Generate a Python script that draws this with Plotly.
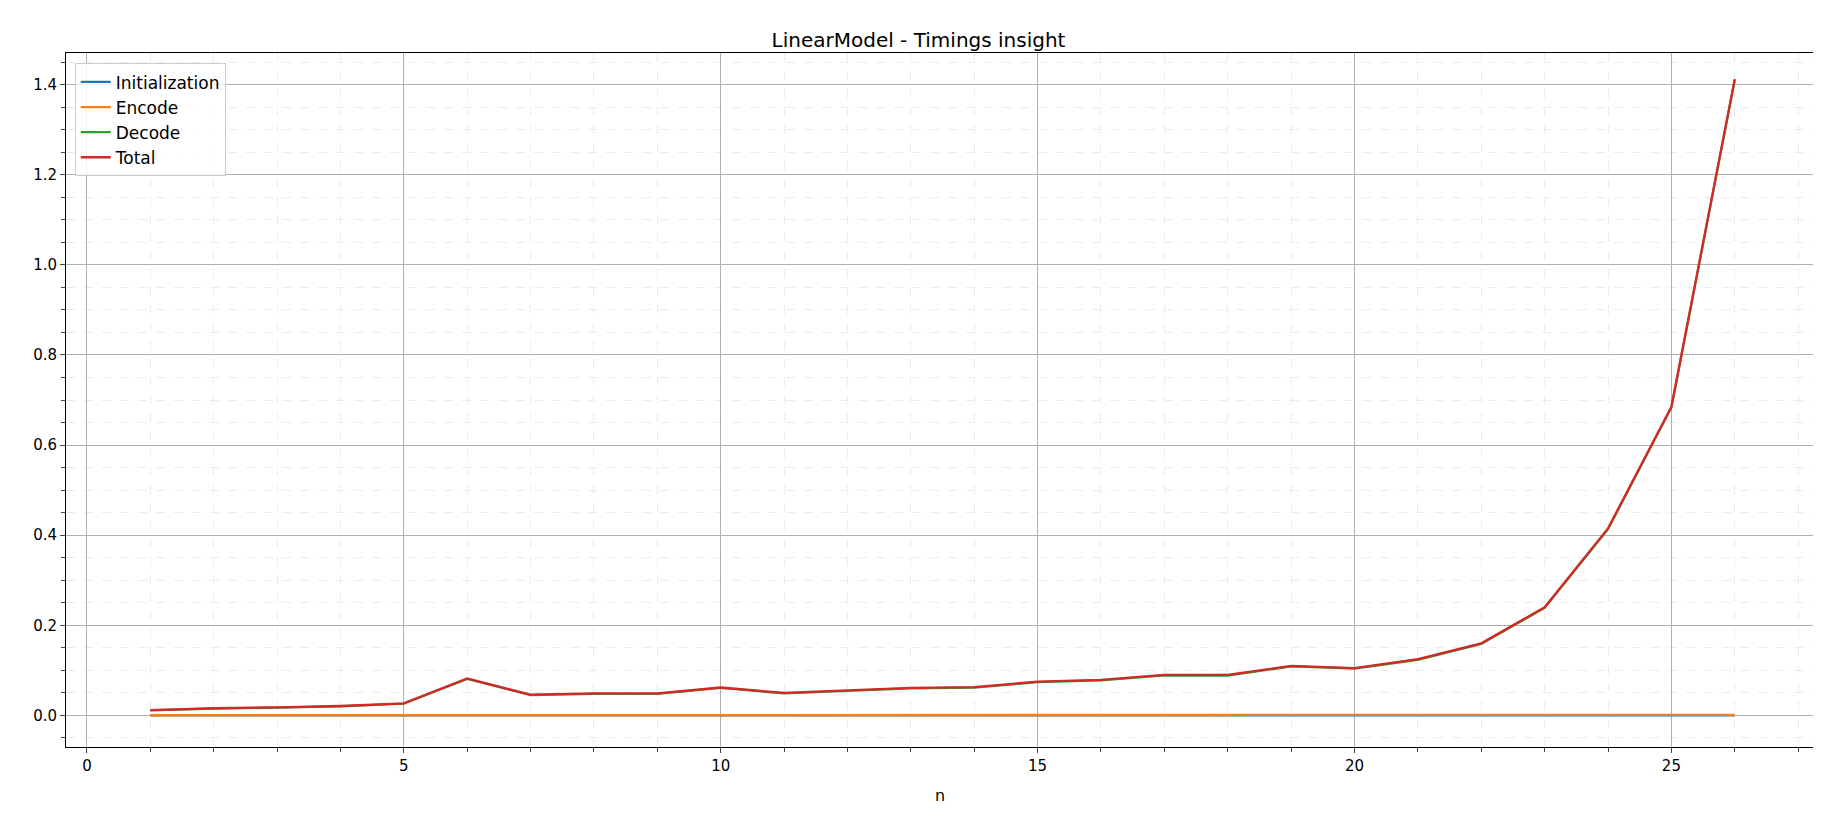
import plotly.graph_objects as go

n = list(range(1, 27))
total = [0.012, 0.016, 0.018, 0.021, 0.027, 0.082, 0.046, 0.049, 0.049, 0.062, 0.050, 0.055,
         0.061, 0.063, 0.075, 0.079, 0.090, 0.090, 0.110, 0.105, 0.125, 0.160, 0.240, 0.415,
         0.685, 1.412]
initialization = [0.0001] * 26
encode = [0.0005, 0.0006, 0.0006, 0.0007, 0.0007, 0.0008, 0.0008, 0.0008, 0.0009, 0.0009,
          0.0009, 0.0010, 0.0010, 0.0010, 0.0011, 0.0011, 0.0011, 0.0012, 0.0012, 0.0012,
          0.0013, 0.0013, 0.0013, 0.0013, 0.0014, 0.0014]
decode = [t - e - i for t, e, i in zip(total, encode, initialization)]

series = [("Initialization", initialization, "#1f77b4"),
          ("Encode", encode, "#ff7f0e"),
          ("Decode", decode, "#2ca02c"),
          ("Total", total, "#d62728")]

fig = go.Figure()
for name, vals, col in series:
    fig.add_trace(go.Scatter(x=n, y=vals, mode="lines", name=name,
                             line=dict(color=col, width=2.3)))

axis_common = dict(showline=True, linecolor="black", mirror=True, ticks="outside",
                   zeroline=False, gridcolor="#b0b0b0", gridwidth=1,
                   tickfont=dict(size=15, color="black"))
fig.update_xaxes(range=[-0.33, 27.25], dtick=5, title=dict(text="n", font=dict(size=16)),
                 minor=dict(dtick=1, showgrid=True, gridcolor="#ececec", griddash="dash",
                            ticks="outside", ticklen=4), **axis_common)
fig.update_yaxes(range=[-0.07, 1.47], dtick=0.2, tickformat=".1f",
                 minor=dict(dtick=0.05, showgrid=True, gridcolor="#ececec", griddash="dash",
                            ticks="outside", ticklen=4), **axis_common)

fig.update_layout(
    title=dict(text="LinearModel - Timings insight", x=0.5, y=0.97, font=dict(size=20, color="black")),
    width=1821, height=817,
    margin=dict(l=58, r=15, t=45, b=78),
    plot_bgcolor="white", paper_bgcolor="white",
    font=dict(family="DejaVu Sans", color="black"),
    legend=dict(x=0.005, y=0.985, xanchor="left", yanchor="top", bgcolor="rgba(255,255,255,0.8)",
                bordercolor="#cccccc", borderwidth=1, font=dict(size=17)),
)
fig.write_html("out.html")
